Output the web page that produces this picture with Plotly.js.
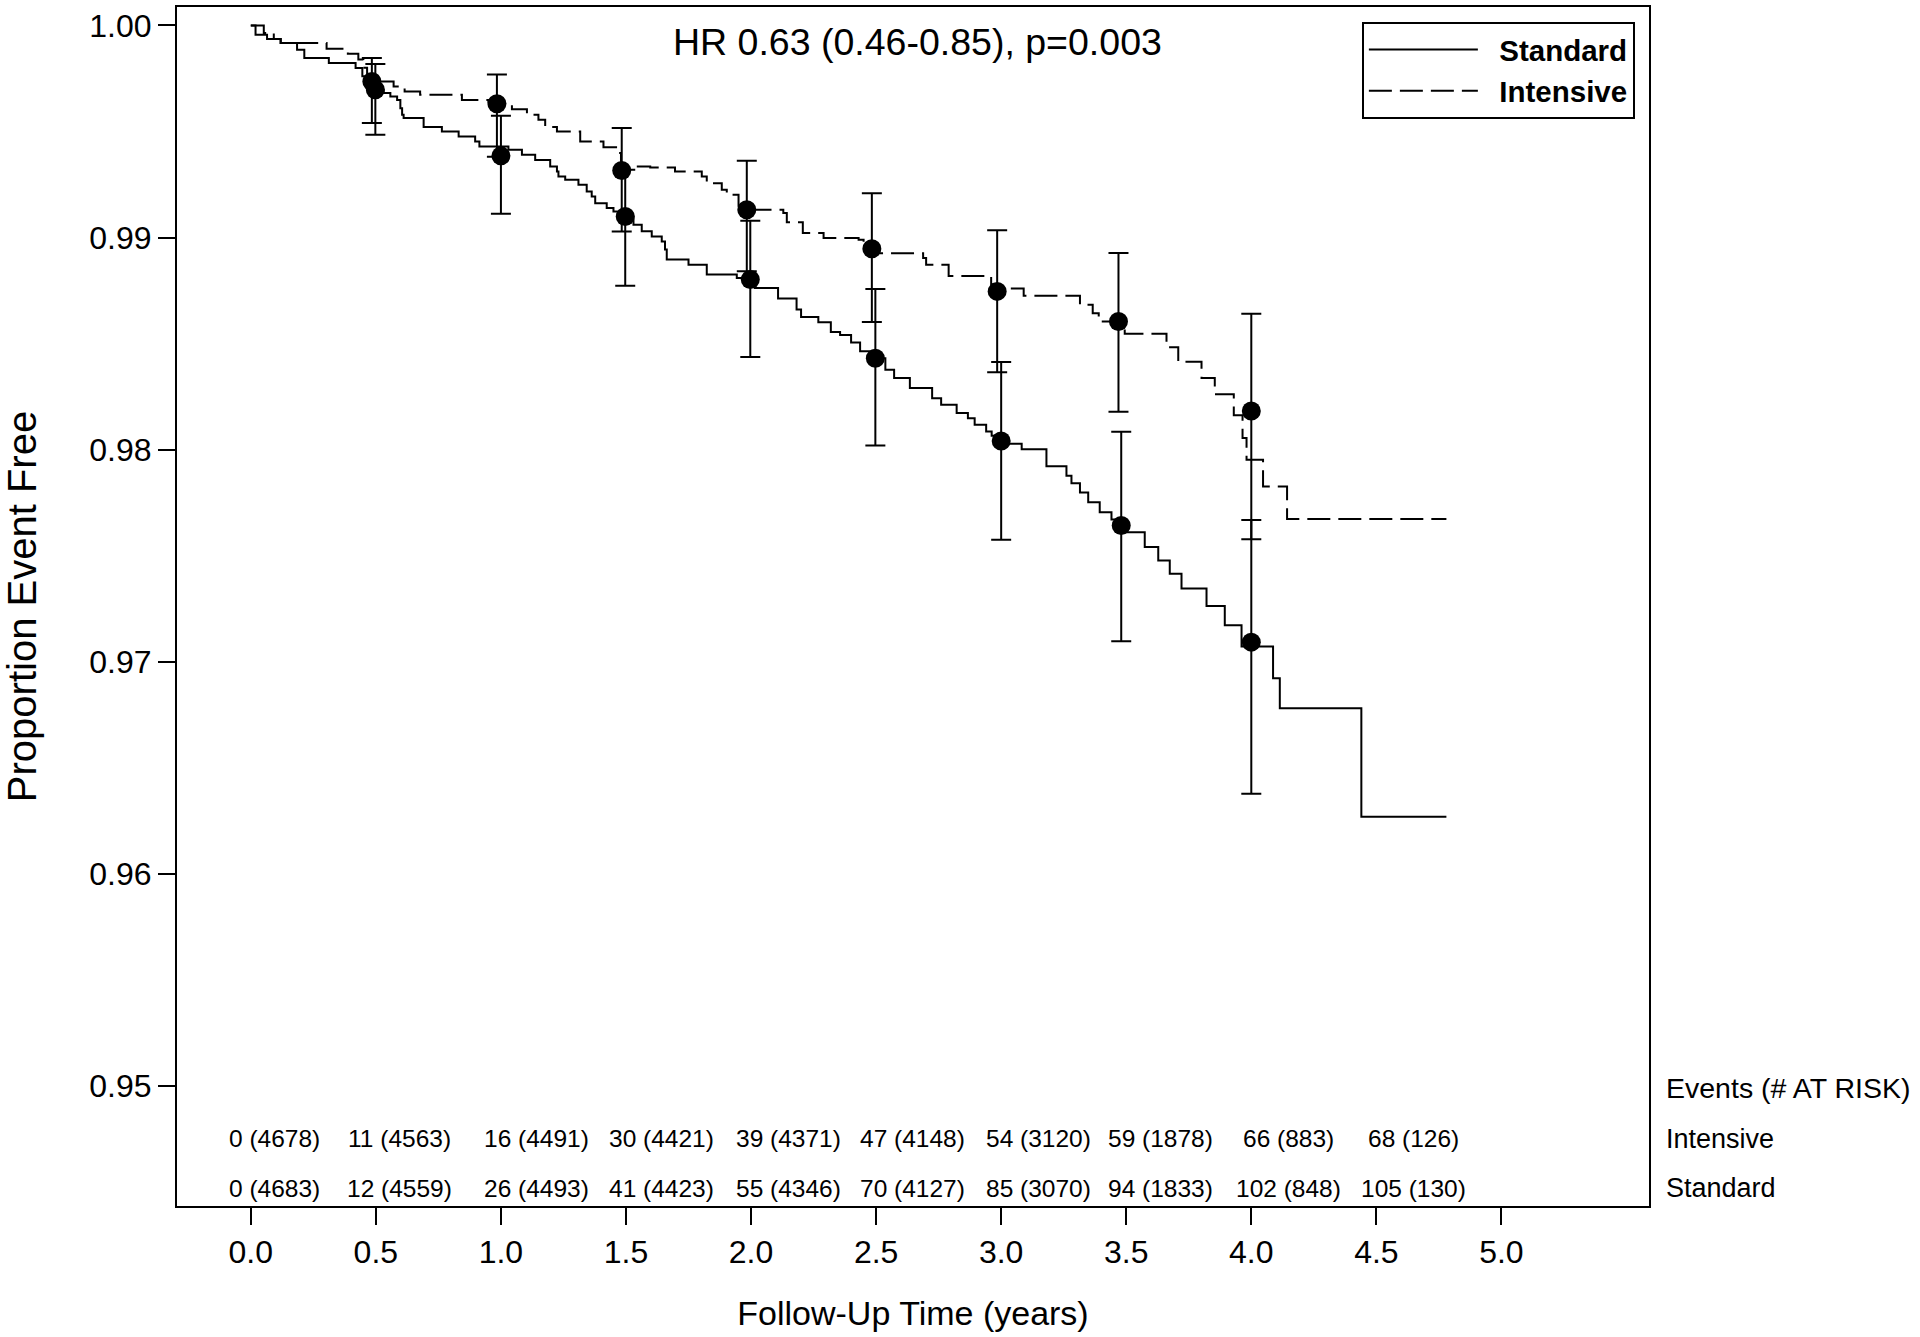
<!DOCTYPE html>
<html>
<head>
<meta charset="utf-8">
<script src="https://cdn.plot.ly/plotly-3.0.1.min.js"></script>
<style>
html,body{margin:0;padding:0;background:#ffffff;}
#chart{width:1920px;height:1337px;}
</style>
</head>
<body>
<div id="chart"></div>
<script>
// ---------- Kaplan-Meier step curves (time in years, proportion event free) ----------
const standardTime = [0, 0.019, 0.065, 0.120, 0.185, 0.214, 0.312, 0.419, 0.446, 0.470, 0.498, 0.531, 0.558, 0.585, 0.598, 0.605, 0.611, 0.691, 0.764, 0.831, 0.897, 0.914, 1.030, 1.084, 1.137, 1.197, 1.224, 1.230, 1.257, 1.310, 1.343, 1.363, 1.377, 1.423, 1.450, 1.497, 1.530, 1.563, 1.603, 1.643, 1.656, 1.663, 1.750, 1.823, 1.943, 2.015, 2.108, 2.182, 2.200, 2.269, 2.319, 2.356, 2.400, 2.436, 2.497, 2.537, 2.572, 2.635, 2.724, 2.760, 2.822, 2.867, 2.894, 2.940, 2.962, 3.010, 3.082, 3.181, 3.261, 3.281, 3.315, 3.348, 3.394, 3.441, 3.500, 3.574, 3.628, 3.674, 3.721, 3.821, 3.894, 3.961, 4.087, 4.114, 4.440, 4.780];
const standardSurv = [1.0, 0.99956, 0.99936, 0.99917, 0.99885, 0.99846, 0.99823, 0.99799, 0.99760, 0.99730, 0.99697, 0.99681, 0.99665, 0.99649, 0.99610, 0.99579, 0.99563, 0.99521, 0.99500, 0.99476, 0.99453, 0.99429, 0.99414, 0.99390, 0.99366, 0.99335, 0.99311, 0.99288, 0.99272, 0.99249, 0.99217, 0.99193, 0.99162, 0.99139, 0.99123, 0.99099, 0.99060, 0.99029, 0.99005, 0.98981, 0.98943, 0.98896, 0.98872, 0.98825, 0.98809, 0.98762, 0.98712, 0.98660, 0.98625, 0.98600, 0.98555, 0.98540, 0.98505, 0.98464, 0.98431, 0.98376, 0.98337, 0.98290, 0.98242, 0.98211, 0.98172, 0.98148, 0.98117, 0.98085, 0.98065, 0.98027, 0.98001, 0.97921, 0.97877, 0.97841, 0.97797, 0.97752, 0.97704, 0.97670, 0.97610, 0.97541, 0.97477, 0.97415, 0.97345, 0.97262, 0.97172, 0.97071, 0.96922, 0.96780, 0.96269, 0.96269];

const intensiveTime = [0, 0.052, 0.092, 0.119, 0.303, 0.388, 0.430, 0.450, 0.465, 0.484, 0.571, 0.615, 0.677, 0.844, 0.950, 0.984, 1.017, 1.044, 1.104, 1.150, 1.177, 1.224, 1.317, 1.410, 1.470, 1.480, 1.597, 1.696, 1.803, 1.823, 1.883, 1.903, 1.950, 1.983, 2.129, 2.143, 2.207, 2.290, 2.430, 2.450, 2.483, 2.500, 2.688, 2.700, 2.790, 2.960, 2.984, 3.090, 3.315, 3.366, 3.390, 3.494, 3.661, 3.708, 3.801, 3.854, 3.930, 3.965, 3.981, 4.047, 4.143, 4.780];
const intensiveSurv = [1.0, 0.99964, 0.99936, 0.99917, 0.99890, 0.99866, 0.99840, 0.99800, 0.99760, 0.99736, 0.99712, 0.99689, 0.99673, 0.99649, 0.99640, 0.99631, 0.99626, 0.99605, 0.99579, 0.99555, 0.99521, 0.99500, 0.99453, 0.99426, 0.99398, 0.99335, 0.99330, 0.99311, 0.99288, 0.99256, 0.99225, 0.99202, 0.99150, 0.99131, 0.99115, 0.99072, 0.99021, 0.98998, 0.98989, 0.98960, 0.98947, 0.98926, 0.98903, 0.98871, 0.98819, 0.98780, 0.98760, 0.98725, 0.98683, 0.98643, 0.98604, 0.98546, 0.98483, 0.98414, 0.98338, 0.98261, 0.98162, 0.98054, 0.97952, 0.97826, 0.97673, 0.97673];

// ---------- point estimates with 95% confidence limits ----------
const intensivePointTime = [0.484, 0.984, 1.483, 1.983, 2.483, 2.984, 3.469, 4.0];
const intensivePoint     = [0.99736, 0.99631, 0.99316, 0.99131, 0.98947, 0.98746, 0.98604, 0.98182];
const intensiveUpper     = [0.99846, 0.99769, 0.99516, 0.99362, 0.99209, 0.99034, 0.98927, 0.98640];
const intensiveLower     = [0.99540, 0.99381, 0.99028, 0.98841, 0.98601, 0.98365, 0.98178, 0.97577];

const standardPointTime = [0.498, 1.0, 1.497, 1.997, 2.497, 3.0, 3.48, 4.0];
const standardPoint     = [0.99697, 0.99385, 0.99099, 0.98802, 0.98431, 0.98040, 0.97642, 0.97092];
const standardUpper     = [0.99818, 0.99574, 0.99320, 0.99079, 0.98757, 0.98413, 0.98084, 0.97668];
const standardLower     = [0.99484, 0.99112, 0.98772, 0.98436, 0.98019, 0.97575, 0.97096, 0.96377];

// ---------- number at risk table ----------
const riskTimes          = [0, 0.5, 1.0, 1.5, 2.0, 2.5, 3.0, 3.5, 4.0, 4.5];
const intensiveEvents    = [0, 11, 16, 30, 39, 47, 54, 59, 66, 68];
const intensiveAtRisk    = [4678, 4563, 4491, 4421, 4371, 4148, 3120, 1878, 883, 126];
const standardEvents     = [0, 12, 26, 41, 55, 70, 85, 94, 102, 105];
const standardAtRisk     = [4683, 4559, 4493, 4423, 4346, 4127, 3070, 1833, 848, 130];

// ---------- axis ticks ----------
const xTickVals = [0, 0.5, 1.0, 1.5, 2.0, 2.5, 3.0, 3.5, 4.0, 4.5, 5.0];
const xTickText = ['0.0','0.5','1.0','1.5','2.0','2.5','3.0','3.5','4.0','4.5','5.0'];
const yTickVals = [0.95, 0.96, 0.97, 0.98, 0.99, 1.00];
const yTickText = ['0.95','0.96','0.97','0.98','0.99','1.00'];

const hrText = 'HR 0.63 (0.46-0.85), p=0.003';

// ---------- layout constants ----------
const FONT = 'Liberation Sans, Arial, Helvetica, sans-serif';
const tableShift = [24, 24, 36, 36, 37, 36, 37, 34, 37, 37];
const NB = '\u00a0\u00a0';

function diff(a, b) { return a.map((v, i) => v - b[i]); }

const traces = [
  {
    type: 'scatter', mode: 'lines', name: NB + 'Standard',
    x: standardTime, y: standardSurv,
    line: {shape: 'hv', color: '#000', width: 2}
  },
  {
    type: 'scatter', mode: 'lines', name: NB + 'Intensive',
    x: intensiveTime, y: intensiveSurv,
    line: {shape: 'hv', color: '#000', width: 2, dash: '23px,8px'}
  },
  {
    type: 'scatter', mode: 'markers', name: 'Standard estimate', showlegend: false,
    x: standardPointTime, y: standardPoint,
    marker: {color: '#000', size: 19},
    error_y: {type: 'data', symmetric: false,
      array: diff(standardUpper, standardPoint),
      arrayminus: diff(standardPoint, standardLower),
      color: '#000', thickness: 2, width: 10}
  },
  {
    type: 'scatter', mode: 'markers', name: 'Intensive estimate', showlegend: false,
    x: intensivePointTime, y: intensivePoint,
    marker: {color: '#000', size: 19},
    error_y: {type: 'data', symmetric: false,
      array: diff(intensiveUpper, intensivePoint),
      arrayminus: diff(intensivePoint, intensiveLower),
      color: '#000', thickness: 2, width: 10}
  }
];

const annotations = [];
annotations.push({
  xref: 'paper', yref: 'paper', x: 0.503, y: 0.9711,
  xanchor: 'center', yanchor: 'middle', showarrow: false,
  text: hrText, font: {family: FONT, size: 37.5, color: '#000'}
});
// table rows
riskTimes.forEach((t, i) => {
  annotations.push({
    xref: 'x', yref: 'paper', x: t, y: 0.0559, xshift: tableShift[i],
    xanchor: 'center', yanchor: 'middle', showarrow: false,
    text: intensiveEvents[i] + ' (' + intensiveAtRisk[i] + ')',
    font: {family: FONT, size: 24.5, color: '#000'}
  });
  annotations.push({
    xref: 'x', yref: 'paper', x: t, y: 0.0150, xshift: tableShift[i],
    xanchor: 'center', yanchor: 'middle', showarrow: false,
    text: standardEvents[i] + ' (' + standardAtRisk[i] + ')',
    font: {family: FONT, size: 24.5, color: '#000'}
  });
});
const rowLabels = [['Events (# AT RISK)', 0.0984, 28.5], ['Intensive', 0.0559, 27], ['Standard', 0.0150, 27]];
rowLabels.forEach(r => {
  annotations.push({
    xref: 'paper', yref: 'paper', x: 1.0105, y: r[1],
    xanchor: 'left', yanchor: 'middle', showarrow: false,
    text: r[0], font: {family: FONT, size: r[2], color: '#000'}
  });
});

const layout = {
  width: 1920, height: 1337,
  margin: {l: 177, r: 271, t: 7, b: 131, pad: 0},
  paper_bgcolor: '#fff', plot_bgcolor: '#fff',
  font: {family: FONT, color: '#000'},
  showlegend: true,
  legend: {
    x: 0.9904, xanchor: 'right', y: 0.9877, yanchor: 'top',
    bgcolor: '#fff', bordercolor: '#000', borderwidth: 2,
    font: {family: FONT, size: 29.5, color: '#000', weight: 'bold'},
    itemwidth: 109
  },
  xaxis: {
    range: [-0.295, 5.59], autorange: false,
    tickmode: 'array', tickvals: xTickVals, ticktext: xTickText,
    ticks: 'outside', ticklen: 17, tickwidth: 2, tickcolor: '#000',
    showline: true, linecolor: '#000', linewidth: 2, mirror: true,
    showgrid: false, zeroline: false,
    tickfont: {family: FONT, size: 32, color: '#000'},
    title: {text: 'Follow-Up Time (years)', font: {family: FONT, size: 34, color: '#000'}, standoff: 32}
  },
  yaxis: {
    range: [0.94433, 1.00087], autorange: false,
    tickmode: 'array', tickvals: yTickVals, ticktext: yTickText,
    ticks: 'outside', ticklen: 17, tickwidth: 2, tickcolor: '#000',
    showline: true, linecolor: '#000', linewidth: 2, mirror: true,
    showgrid: false, zeroline: false,
    tickfont: {family: FONT, size: 32, color: '#000'},
    title: {text: 'Proportion Event Free', font: {family: FONT, size: 40, color: '#000'}, standoff: 40}
  },
  annotations: annotations
};

Plotly.newPlot('chart', traces, layout, {displayModeBar: false, staticPlot: true});
</script>
</body>
</html>
